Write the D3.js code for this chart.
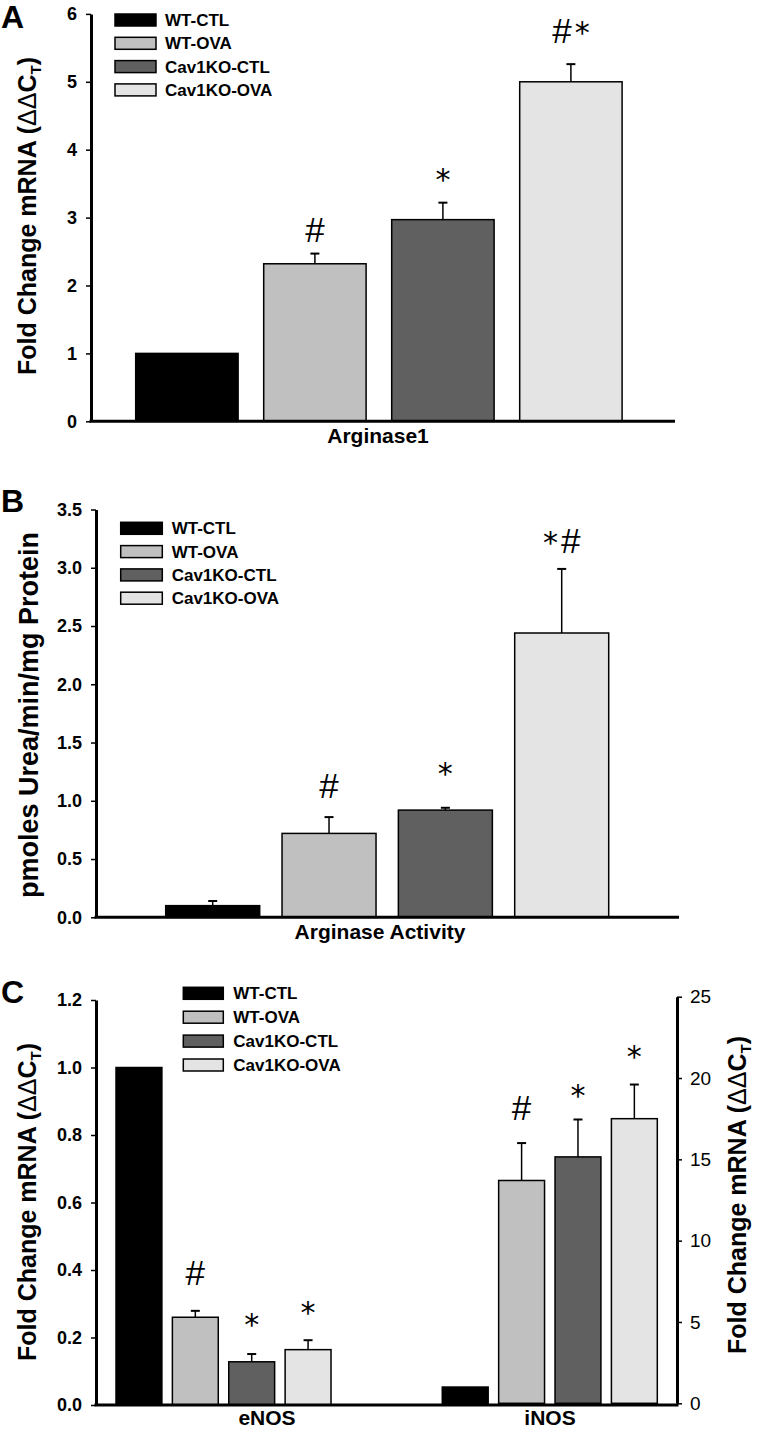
<!DOCTYPE html>
<html><head><meta charset="utf-8">
<script src="https://cdn.jsdelivr.net/npm/d3@7"></script>
<style>body{margin:0;background:#fff} text{font-family:"Liberation Sans",Arial,sans-serif}</style>
</head><body><svg id="c" width="758" height="1431"></svg>
<script>
// ---------- data ----------
const groups = ["WT-CTL", "WT-OVA", "Cav1KO-CTL", "Cav1KO-OVA"];

const arg1Mean = [1.0, 2.32, 2.97, 5.0];
const arg1Err = [0, 0.15, 0.25, 0.26];
const arg1Marks = ["", "#", "*", "#*"];
const arg1MarkAt = [null, 2.64, 3.41, 5.57];
const arg1Ticks = [0, 1, 2, 3, 4, 5, 6];

const actMean = [0.10, 0.72, 0.92, 2.44];
const actErr = [0.04, 0.14, 0.02, 0.55];
const actMarks = ["", "#", "*", "*#"];
const actMarkAt = [null, 1.02, 1.14, 3.13];
const actTicks = [0, 0.5, 1.0, 1.5, 2.0, 2.5, 3.0, 3.5];

const genes = ["eNOS", "iNOS"];
const eNOSMean = [1.0, 0.26, 0.128, 0.164];
const eNOSErr = [0, 0.019, 0.023, 0.028];
const eNOSMarks = ["", "#", "*", "*"];
const eNOSMarkAt = [null, 0.356, 0.208, 0.243];
const iNOSMean = [1.0, 13.7, 15.15, 17.5];
const iNOSErr = [0, 2.3, 2.3, 2.1];
const iNOSMarks = ["", "#", "*", "*"];
const iNOSMarkAt = [null, 17.4, 18.25, 20.7];
const cLeftTicks = [0, 0.2, 0.4, 0.6, 0.8, 1.0, 1.2];
const cRightTicks = [0, 5, 10, 15, 20, 25];

// ---------- style ----------
const color = d3.scaleOrdinal().domain(groups).range(["#000000", "#c0c0c0", "#606060", "#e4e4e4"]);
const svg = d3.select("#c");
svg.append("rect").attr("width", 758).attr("height", 1431).attr("fill", "#fff");

function styleAxis(g, bold, size) {
  g.select(".domain").attr("stroke", "#000").attr("stroke-width", 3);
  g.selectAll(".tick line").attr("stroke", "#000").attr("stroke-width", 1.5);
  g.selectAll(".tick text").attr("fill", "#000")
    .style("font-family", '"Liberation Sans",Arial,sans-serif')
    .style("font-weight", bold ? "bold" : "normal").style("font-size", size + "px");
}

function drawBars(g, x, y, mean, err, marks, markAt) {
  const data = groups.map((k, i) => ({k, v: mean[i], e: err[i], m: marks[i], ma: markAt[i]}));
  g.selectAll("rect.bar").data(data).join("rect").attr("class", "bar")
    .attr("x", d => x(d.k)).attr("width", x.bandwidth())
    .attr("y", d => y(d.v)).attr("height", d => y(0) - y(d.v))
    .attr("fill", d => color(d.k)).attr("stroke", "#000").attr("stroke-width", 1.5);
  const eb = data.filter(d => d.e > 0);
  g.selectAll("line.err").data(eb).join("line").attr("class", "err")
    .attr("x1", d => x(d.k) + x.bandwidth() / 2).attr("x2", d => x(d.k) + x.bandwidth() / 2)
    .attr("y1", d => y(d.v)).attr("y2", d => y(d.v + d.e))
    .attr("stroke", "#000").attr("stroke-width", 1.5);
  g.selectAll("line.cap").data(eb).join("line").attr("class", "cap")
    .attr("x1", d => x(d.k) + x.bandwidth() / 2 - 4.5).attr("x2", d => x(d.k) + x.bandwidth() / 2 + 4.5)
    .attr("y1", d => y(d.v + d.e)).attr("y2", d => y(d.v + d.e))
    .attr("stroke", "#000").attr("stroke-width", 2);
  g.selectAll("text.mark").data(data.filter(d => d.m)).join("text").attr("class", "mark")
    .attr("x", d => x(d.k) + x.bandwidth() / 2).attr("y", d => y(d.ma))
    .attr("text-anchor", "middle").attr("fill", "#000")
    .each(function (d) {
      const t = d3.select(this);
      d.m.split("").forEach((ch, j) => {
        const s = t.append("tspan").text(ch);
        if (ch === "*") s.style("font-family", '"DejaVu Sans",sans-serif').style("font-size", "30px");
        else s.style("font-size", "35px");
        if (j > 0) s.attr("dx", 3);
      });
    });
}

function legend(x0, yc, step, w, tx) {
  const g = svg.append("g");
  groups.forEach((k, i) => {
    g.append("rect").attr("x", x0).attr("y", yc + i * step - 6).attr("width", w).attr("height", 12)
      .attr("fill", color(k)).attr("stroke", "#000").attr("stroke-width", 1.5);
    g.append("text").attr("x", tx).attr("y", yc + i * step + 6)
      .style("font-size", "17px").style("font-weight", "bold").text(k);
  });
}

function yTitle(x, yc, size, parts) {
  const t = svg.append("text").attr("transform", `translate(${x},${yc}) rotate(-90)`)
    .attr("text-anchor", "middle").style("font-weight", "bold").style("font-size", size + "px");
  parts(t);
}
function ddct(t) {
  t.append("tspan").text("Fold Change mRNA (");
  t.append("tspan").style("font-weight", "normal").text("\u0394\u0394");
  t.append("tspan").text("C");
  t.append("tspan").attr("dy", 5).style("font-size", "0.6em").text("T");
  t.append("tspan").attr("dy", -5).text(")");
}
function letter(ch, x, y) {
  svg.append("text").attr("x", x).attr("y", y).style("font-size", "32px").style("font-weight", "bold").text(ch);
}

// ---------- Panel A ----------
{
  const x = d3.scaleBand().domain(groups).range([135.7, 622.1]).paddingInner(0.2).paddingOuter(0);
  const y = d3.scaleLinear().domain([0, 6]).range([421.3, 13.9]);
  const g = svg.append("g");
  drawBars(g, x, y, arg1Mean, arg1Err, arg1Marks, arg1MarkAt);
  const ax = svg.append("g").attr("transform", "translate(91,0)")
    .call(d3.axisLeft(y).tickValues(arg1Ticks).tickSize(5).tickSizeOuter(0).tickPadding(9).tickFormat(d3.format("d")));
  styleAxis(ax, true, 18);
  svg.append("line").attr("x1", 89.5).attr("x2", 675).attr("y1", y(0)).attr("y2", y(0)).attr("stroke", "#000").attr("stroke-width", 3);
  svg.append("text").attr("x", 378).attr("y", 443).attr("text-anchor", "middle")
    .style("font-size", "21px").style("font-weight", "bold").text("Arginase1");
  legend(115, 20, 23.3, 41, 165);
  yTitle(36, 216, 25, ddct);
  letter("A", 1, 28);
}

// ---------- Panel B ----------
{
  const x = d3.scaleBand().domain(groups).range([165.7, 608.7]).paddingInner(0.192).paddingOuter(0);
  const y = d3.scaleLinear().domain([0, 3.5]).range([917.3, 509.5]);
  const g = svg.append("g");
  drawBars(g, x, y, actMean, actErr, actMarks, actMarkAt);
  const ax = svg.append("g").attr("transform", "translate(96,0)")
    .call(d3.axisLeft(y).tickValues(actTicks).tickSize(5).tickSizeOuter(0).tickPadding(9).tickFormat(d3.format(".1f")));
  styleAxis(ax, true, 18);
  svg.append("line").attr("x1", 94.5).attr("x2", 679).attr("y1", y(0)).attr("y2", y(0)).attr("stroke", "#000").attr("stroke-width", 3);
  svg.append("text").attr("x", 380).attr("y", 939).attr("text-anchor", "middle")
    .style("font-size", "21px").style("font-weight", "bold").text("Arginase Activity");
  legend(120.7, 528.3, 23.3, 41.6, 171.7);
  yTitle(38, 715, 27, t => t.text("pmoles Urea/min/mg Protein"));
  letter("B", 1, 512);
}

// ---------- Panel C ----------
{
  const x0 = d3.scaleBand().domain(genes).range([116, 657.3]).paddingInner(0.341).paddingOuter(0);
  const x1 = d3.scaleBand().domain(groups).range([0, x0.bandwidth()]).paddingInner(0.186).paddingOuter(0);
  const yL = d3.scaleLinear().domain([0, 1.2]).range([1405, 1000]);
  const yR = d3.scaleLinear().domain([0, 25]).range([1403.3, 996.7]);
  const gE = svg.append("g").attr("transform", `translate(${x0("eNOS")},0)`);
  drawBars(gE, x1, yL, eNOSMean, eNOSErr, eNOSMarks, eNOSMarkAt);
  const gI = svg.append("g").attr("transform", `translate(${x0("iNOS")},0)`);
  drawBars(gI, x1, yR, iNOSMean, iNOSErr, iNOSMarks, iNOSMarkAt);
  const axL = svg.append("g").attr("transform", "translate(96,0)")
    .call(d3.axisLeft(yL).tickValues(cLeftTicks).tickSize(5).tickSizeOuter(0).tickPadding(9).tickFormat(d3.format(".1f")));
  styleAxis(axL, true, 18);
  const axR = svg.append("g").attr("transform", "translate(677,0)")
    .call(d3.axisRight(yR).tickValues(cRightTicks).tickSize(5).tickSizeOuter(0).tickPadding(8).tickFormat(d3.format("d")));
  styleAxis(axR, false, 19);
  svg.append("line").attr("x1", 94.5).attr("x2", 678.5).attr("y1", yL(0)).attr("y2", yL(0)).attr("stroke", "#000").attr("stroke-width", 3);
  const labX = {eNOS: 267, iNOS: 550};
  genes.forEach(gn => {
    svg.append("text").attr("x", labX[gn]).attr("y", 1425).attr("text-anchor", "middle")
      .style("font-size", "21px").style("font-weight", "bold").text(gn);
  });
  legend(183.3, 993.3, 23.9, 40, 233.3);
  yTitle(36, 1202, 25, ddct);
  yTitle(746, 1195, 25, ddct);
  letter("C", 1, 1003);
}
</script></body></html>
